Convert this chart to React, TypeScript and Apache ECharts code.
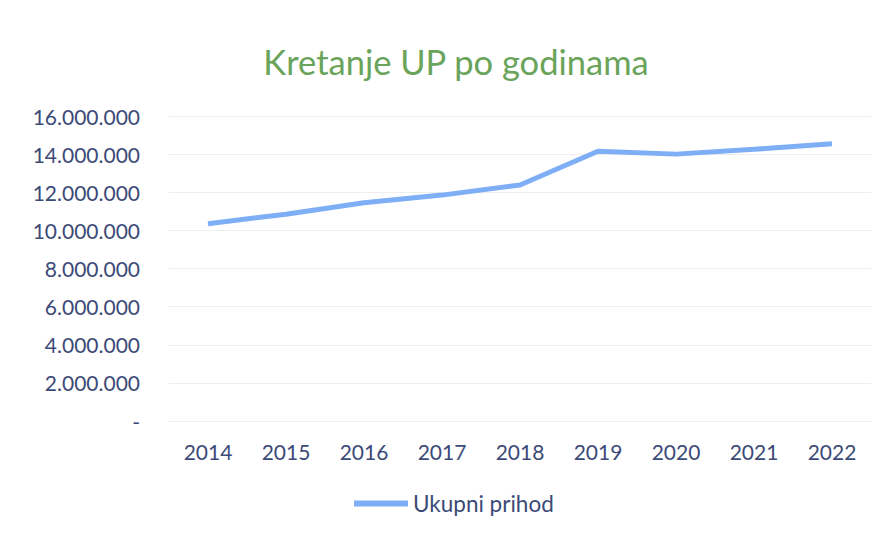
import React, { useEffect, useRef } from "react";
import * as echarts from "echarts";

const years = ["2014", "2015", "2016", "2017", "2018", "2019", "2020", "2021", "2022"];
const ukupniPrihod = [10350000, 10850000, 11450000, 11850000, 12380000, 14150000, 14000000, 14250000, 14550000];
const yTicks = [0, 2000000, 4000000, 6000000, 8000000, 10000000, 12000000, 14000000, 16000000];

function fmt(v: number): string {
  if (v === 0) return "-";
  return String(Math.round(v)).replace(/\B(?=(\d{3})+(?!\d))/g, ".");
}

const FONT = "Lato";
const TXT = "#3c4a78";

export default function App() {
  const ref = useRef<HTMLDivElement>(null);
  useEffect(() => {
    if (!ref.current) return;
    const chart = echarts.init(ref.current, undefined, { renderer: "svg" });
    chart.setOption({
      animation: false,
      backgroundColor: "#ffffff",
      title: {
        text: "Kretanje UP po godinama",
        left: 443,
        top: 31,
        textAlign: "center",
        textStyle: { color: "#6aa35a", fontSize: 34.5, fontWeight: "normal", fontFamily: FONT },
      },
      grid: { left: 161, right: 12, top: 108, bottom: 104, containLabel: false },
      legend: {
        bottom: 5,
        left: 341,
        itemWidth: 54,
        itemHeight: 6,
        itemGap: 7,
        icon: "rect",
        textStyle: { color: TXT, fontSize: 22.5, fontFamily: FONT },
        data: ["Ukupni prihod"],
      },
      xAxis: {
        type: "category",
        data: years,
        boundaryGap: true,
        axisLine: { show: false },
        axisTick: { show: false },
        axisLabel: { color: TXT, fontSize: 21, margin: 20, fontFamily: FONT },
      },
      yAxis: {
        type: "value",
        min: yTicks[0],
        max: yTicks[yTicks.length - 1],
        interval: 2000000,
        axisLine: { show: false },
        axisTick: { show: false },
        splitLine: { lineStyle: { color: "#eeeeee", width: 1 } },
        axisLabel: {
          color: TXT,
          fontSize: 21,
          margin: 29,
          fontFamily: FONT,
          formatter: (v: number) => fmt(v),
        },
      },
      series: [
        {
          name: "Ukupni prihod",
          type: "line",
          data: ukupniPrihod,
          showSymbol: false,
          symbol: "none",
          lineStyle: { color: "#7eaef6", width: 5 },
          itemStyle: { color: "#7eaef6" },
        },
      ],
    });
    return () => chart.dispose();
  }, []);
  return <div ref={ref} style={{ width: 875, height: 517 }} />;
}
